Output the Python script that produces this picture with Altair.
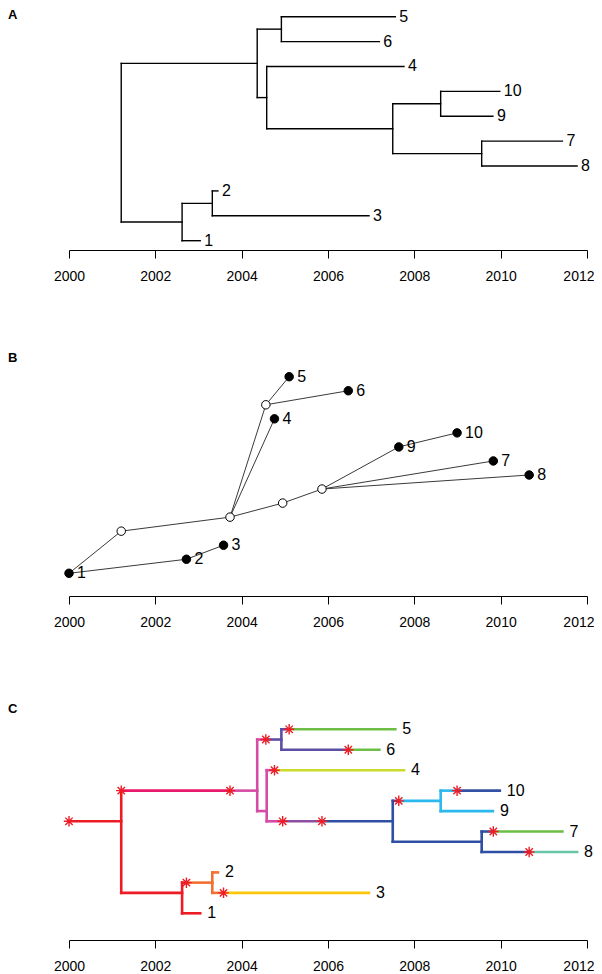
import altair as alt
import pandas as pd

# ---------------- data ----------------
years = [2000, 2002, 2004, 2006, 2008, 2010, 2012]

# dated phylogeny (panels A and C): tips in top-to-bottom order, sampling times
tip_names = ["5", "6", "4", "10", "9", "7", "8", "2", "3", "1"]
tip_times = [2007.56, 2007.19, 2007.76, 2009.98, 2009.82, 2011.43, 2011.77, 2003.45, 2006.95, 2003.04]

# internal nodes: name, time, children
node_names = ["root", "nU", "n56", "n4R", "n710", "n910", "n78", "n123", "n23"]
node_times = [2001.21, 2004.36, 2004.92, 2004.58, 2007.50, 2008.61, 2009.56, 2002.62, 2003.32]
node_children = [["nU", "n123"], ["n56", "n4R"], ["5", "6"], ["4", "n710"],
                 ["n910", "n78"], ["10", "9"], ["7", "8"], ["n23", "1"], ["2", "3"]]

# transmission tree (panel B): hosts, infectors, infection times, vertical rank
host_names = ["1", "2", "3", "a", "b", "c", "d", "8", "7", "9", "10", "4", "e", "6", "5"]
host_infector = ["", "1", "2", "1", "a", "b", "c", "d", "d", "d", "9", "b", "b", "e", "e"]
host_times = [2000.0, 2002.72, 2003.58, 2001.21, 2003.73, 2004.95, 2005.86, 2010.66,
              2009.83, 2007.64, 2008.99, 2004.76, 2004.56, 2006.47, 2005.10]
host_rank = [0, 1, 2, 3, 4, 5, 6, 7, 8, 9, 10, 11, 12, 13, 14]
host_sampled = [True, True, True, False, False, False, False, True, True, True, True, True, False, True, True]
# phylogeny branch (its child node) on which each infection took place (panel C)
host_branch = ["root", "n23", "3", "nU", "nU", "n710", "n710", "8", "7", "n910", "10", "4", "n56", "6", "5"]
host_colors = ["#ED1C24", "#F36F32", "#FFC60B", "#E8196B", "#D64BA5", "#8C4FA0", "#2E4FA3", "#67C5A6",
               "#6DBE45", "#2BB8EC", "#3352A6", "#C9DA2A", "#5B4EA4", "#6DBE45", "#6DBE45"]

# ---------------- layout constants (page pixels) ----------------
FONT = "Liberation Sans"
PLOT_W = 518
SP = 10
A_TOP, A_AX = 8, 250
B_TOP, B_AX = 293, 596
C_TOP, C_AX = 639, 940


def dom(top, bottom, p0, v0, p1, v1):
    k = (v1 - v0) / (p1 - p0)
    return [v0 + (bottom - p0) * k, v0 + (top - p0) * k]


A_DOM = dom(A_TOP, A_AX, 16.7, 1, 240.7, 10)
B_DOM = dom(B_TOP, B_AX, 573.3, 0, 376.7, 14)
C_DOM = dom(C_TOP, C_AX, 729.3, 1, 913.3, 10)

# ---------------- tree helpers ----------------
children = dict(zip(node_names, node_children))
ntime = dict(zip(node_names, node_times))
ntime.update(zip(tip_names, tip_times))
tip_idx = {n: i + 1 for i, n in enumerate(tip_names)}


def y_mean_children(n):
    if n in tip_idx:
        return tip_idx[n]
    return sum(y_mean_children(c) for c in children[n]) / len(children[n])


def desc_tips(n):
    if n in tip_idx:
        return [tip_idx[n]]
    out = []
    for c in children[n]:
        out += desc_tips(c)
    return out


def y_mean_tips(n):
    d = desc_tips(n)
    return sum(d) / len(d)


# panel A segments
segA = []
for n in node_names:
    ys = [y_mean_children(c) for c in children[n]]
    segA.append(dict(x=ntime[n], x2=ntime[n], y=min(ys), y2=max(ys)))
    for c in children[n]:
        yc = y_mean_children(c)
        segA.append(dict(x=ntime[n], x2=ntime[c], y=yc, y2=yc))
segA = pd.DataFrame(segA)
labA = pd.DataFrame(dict(x=tip_times, y=[tip_idx[n] for n in tip_names], t=tip_names))

# panel C segments coloured by host
htime = dict(zip(host_names, host_times))
events = {}
for h, b in zip(host_names, host_branch):
    events.setdefault(b, []).append(h)
for b in events:
    events[b].sort(key=lambda h: htime[h])

segC = []


def walk(n, start_time, start_host):
    y = y_mean_tips(n)
    cur_t, cur_h = start_time, start_host
    for h in events.get(n, []):
        if cur_h is not None and htime[h] > cur_t:
            segC.append(dict(x=cur_t, x2=htime[h], y=y, y2=y, host=cur_h))
        cur_t, cur_h = htime[h], h
    segC.append(dict(x=cur_t, x2=ntime[n], y=y, y2=y, host=cur_h))
    if n in children:
        ys = [y_mean_tips(c) for c in children[n]]
        segC.append(dict(x=ntime[n], x2=ntime[n], y=min(ys), y2=max(ys), host=cur_h))
        for c in children[n]:
            walk(c, ntime[n], cur_h)


walk("root", min(host_times), None)
segC = pd.DataFrame(segC)
segC["vert"] = (segC["y"] != segC["y2"]).astype(int)
segC = segC.sort_values("vert", ascending=False).reset_index(drop=True)
segC["order"] = range(len(segC))
stars = pd.DataFrame(dict(x=host_times, y=[y_mean_tips(b) for b in host_branch], host=host_names))
labC = pd.DataFrame(dict(x=tip_times, y=[tip_idx[n] for n in tip_names], t=tip_names))

# panel B
hrank = dict(zip(host_names, host_rank))
edgesB = pd.DataFrame([dict(x=htime[f], y=hrank[f], x2=htime[h], y2=hrank[h])
                       for h, f in zip(host_names, host_infector) if f])
ptsB = pd.DataFrame(dict(x=host_times, y=host_rank, host=host_names, sampled=host_sampled))

# ---------------- chart ----------------
xscale = alt.Scale(domain=[2000, 2012], nice=False, zero=False)
xaxis = alt.Axis(values=years, format="d", title=None, grid=False, tickSize=8, labelPadding=11,
                 labelFontSize=14, labelFont=FONT, labelColor="black", domainColor="black",
                 tickColor="black", domainWidth=1, tickWidth=1, labelFlush=False,
                 labelAlign={"condition": {"test": "datum.value == 2012", "value": "right"}, "value": "center"},
                 labelOffset={"condition": {"test": "datum.value == 2012", "value": 7}, "value": 0})


def X(f="x"):
    return alt.X(f + ":Q", scale=xscale, axis=xaxis)


def Y(d, f="y"):
    return alt.Y(f + ":Q", scale=alt.Scale(domain=d, nice=False, zero=False), axis=None)


def panel_label(letter, ypix):
    return alt.Chart(pd.DataFrame(dict(t=[letter]))).mark_text(
        align="left", baseline="alphabetic", font=FONT, fontSize=13, fontWeight="bold", color="black"
    ).encode(text="t:N", x=alt.value(-61), y=alt.value(ypix))


# Panel A
a_lines = alt.Chart(segA).mark_rule(color="black", strokeWidth=1.4, strokeCap="square").encode(
    x=X(), x2="x2:Q", y=Y(A_DOM), y2="y2:Q")
a_text = alt.Chart(labA).mark_text(align="left", baseline="middle", dx=4, font=FONT, fontSize=16,
                                   color="black").encode(x=X(), y=Y(A_DOM), text="t:N")
panelA = alt.layer(a_lines, a_text, panel_label("A", 11)).properties(width=PLOT_W, height=A_AX - A_TOP)

# Panel B
b_edges = alt.Chart(edgesB).mark_rule(color="#3a3a3a", strokeWidth=1).encode(
    x=X(), x2="x2:Q", y=Y(B_DOM), y2="y2:Q")
b_pts = alt.Chart(ptsB).mark_point(shape="circle", filled=True, size=72, stroke="black", strokeWidth=1,
                                   opacity=1).encode(
    x=X(), y=Y(B_DOM),
    fill=alt.Fill("sampled:N", scale=alt.Scale(domain=[True, False], range=["black", "white"]), legend=None))
b_text = alt.Chart(ptsB[ptsB["sampled"]]).mark_text(align="left", baseline="middle", dx=8, font=FONT,
                                                     fontSize=16, color="black").encode(
    x=X(), y=Y(B_DOM), text="host:N")
panelB = alt.layer(b_edges, b_pts, b_text, panel_label("B", 361.7 - B_TOP)).properties(
    width=PLOT_W, height=B_AX - B_TOP)

# Panel C
hcol = alt.Color("host:N", scale=alt.Scale(domain=host_names, range=host_colors), legend=None)
c_lines = alt.Chart(segC).mark_rule(strokeWidth=2.6, strokeCap="square").encode(
    x=X(), x2="x2:Q", y=Y(C_DOM), y2="y2:Q", color=hcol, order="order:Q")
asterisk = "M0,-1L0,1M-1,0L1,0M-0.7,-0.7L0.7,0.7M-0.7,0.7L0.7,-0.7"
c_stars = alt.Chart(stars).mark_point(shape=asterisk, filled=False, size=110, stroke="#EE1C25",
                                      strokeWidth=1.4, opacity=1).encode(x=X(), y=Y(C_DOM))
c_text = alt.Chart(labC).mark_text(align="left", baseline="middle", dx=7, font=FONT, fontSize=16,
                                   color="black").encode(x=X(), y=Y(C_DOM), text="t:N")
panelC = alt.layer(c_lines, c_stars, c_text, panel_label("C", 713 - C_TOP)).properties(
    width=PLOT_W, height=C_AX - C_TOP)

chart = alt.vconcat(panelA, panelB, panelC, spacing=SP).properties(padding=0).configure_view(
    stroke=None).resolve_scale(color="independent")

chart.save("out.html", embed_options={"renderer": "svg", "actions": False})
